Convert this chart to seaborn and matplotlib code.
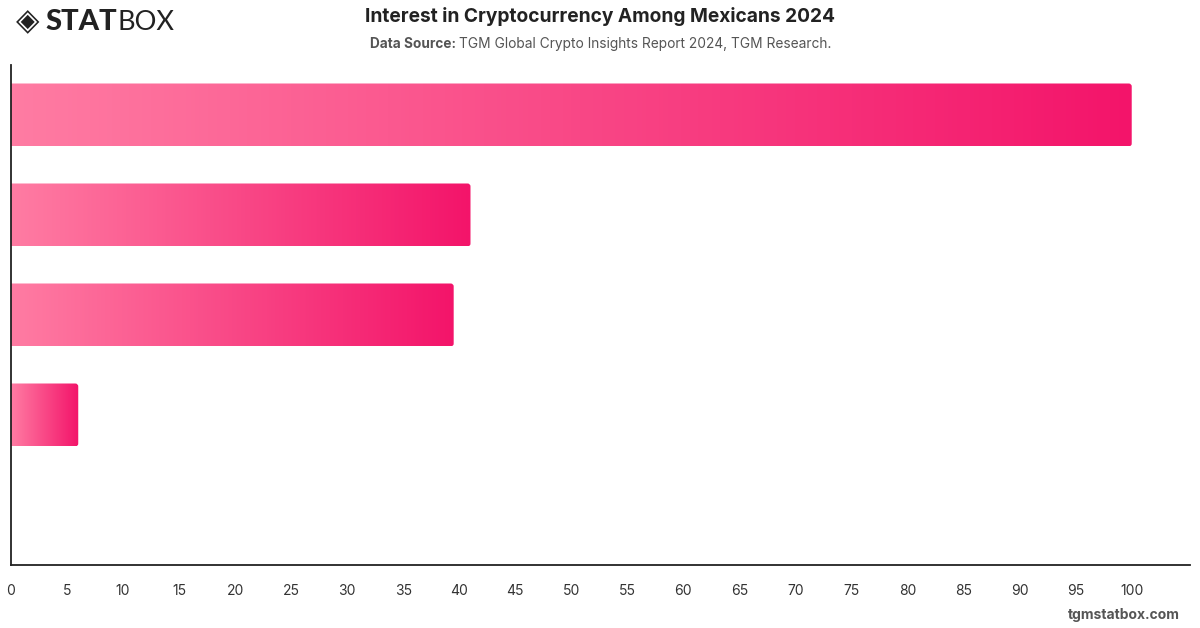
import matplotlib
matplotlib.use("Agg")
import matplotlib.pyplot as plt
from matplotlib.colors import LinearSegmentedColormap
from matplotlib.patches import FancyBboxPatch
import numpy as np
import pandas as pd
import seaborn as sns

# data (category labels are not shown on the chart)
categories = ['Category 1', 'Category 2', 'Category 3', 'Category 4', 'Category 5']
values = [100, 41, 39.5, 6, 0]
xticks = list(range(0, 101, 5))

df = pd.DataFrame({'category': categories, 'value': values})

sns.set_theme(style='white')
plt.rcParams['font.family'] = ['Inter', 'DejaVu Sans']

fig = plt.figure(figsize=(12, 6.28), dpi=100)
ax = fig.add_axes([11 / 1200, 1 - 565 / 628, 1179 / 1200, 500 / 628])

sns.barplot(data=df, x='value', y='category', orient='h', width=0.63,
            color='#f5176b', ax=ax)

ax.set_xlim(0, 105.2)
ax.set_ylim(len(categories) - 0.5, -0.5)

# gradient fill for each bar
cmap = LinearSegmentedColormap.from_list('pink', ['#ff7ca3', '#f3146a'])
grad = np.linspace(0, 1, 256).reshape(1, -1)
px_x = 1179 / 105.2
px_y = 100.0
r = 3 / px_x
for p in list(ax.patches):
    x0, y0 = p.get_x(), p.get_y()
    w, h = p.get_width(), p.get_height()
    p.set_visible(False)
    if w <= 0:
        continue
    clip = FancyBboxPatch((x0 - 1, y0), w + 1, h,
                          boxstyle=f'round,pad=0,rounding_size={r}',
                          mutation_aspect=px_x / px_y,
                          transform=ax.transData, facecolor='none',
                          edgecolor='none')
    ax.add_patch(clip)
    im = ax.imshow(grad, cmap=cmap, aspect='auto',
                   extent=(x0, x0 + w, y0 + h, y0), zorder=2)
    im.set_clip_path(clip)

ax.set_xlim(0, 105.2)
ax.set_ylim(len(categories) - 0.5, -0.5)

ax.set_xticks(xticks)
ax.set_xticklabels([str(t) for t in xticks])
ax.set_yticks([])
ax.set_xlabel('')
ax.set_ylabel('')
ax.tick_params(axis='x', length=0, pad=14, labelsize=10, labelcolor='#333333')
for s in ['top', 'right']:
    ax.spines[s].set_visible(False)
for s in ['left', 'bottom']:
    ax.spines[s].set_color('#222222')
    ax.spines[s].set_linewidth(1.3)

# titles
fig.text(0.5, 1 - 17 / 628, 'Interest in Cryptocurrency Among Mexicans 2024',
         ha='center', va='center', fontsize=13.8, fontweight='bold', color='#222222')
fig.text(370 / 1200, 1 - 44 / 628, 'Data Source:', ha='left', va='center',
         fontsize=9.8, fontweight='bold', color='#555555')
fig.text(459 / 1200, 1 - 44 / 628,
         'TGM Global Crypto Insights Report 2024, TGM Research.',
         ha='left', va='center', fontsize=9.9, color='#555555')

# logo
fig.text(16 / 1200, 1 - 22 / 628, '\u25C8', ha='left', va='center',
         fontsize=22, color='#222222', family=['DejaVu Sans'])
fig.text(45 / 1200, 1 - 22 / 628, 'STAT', ha='left', va='center',
         fontsize=21, fontweight='black', color='#222222', family=['Lato', 'DejaVu Sans'])
fig.text(117 / 1200, 1 - 22 / 628, 'BOX', ha='left', va='center',
         fontsize=19.5, fontweight='normal', color='#222222', family=['Lato', 'DejaVu Sans'])

fig.text(1180 / 1200, 1 - 615 / 628, 'tgmstatbox.com', ha='right', va='center',
         fontsize=10, fontweight='bold', color='#555555')

fig.savefig('out.png', dpi=100)
